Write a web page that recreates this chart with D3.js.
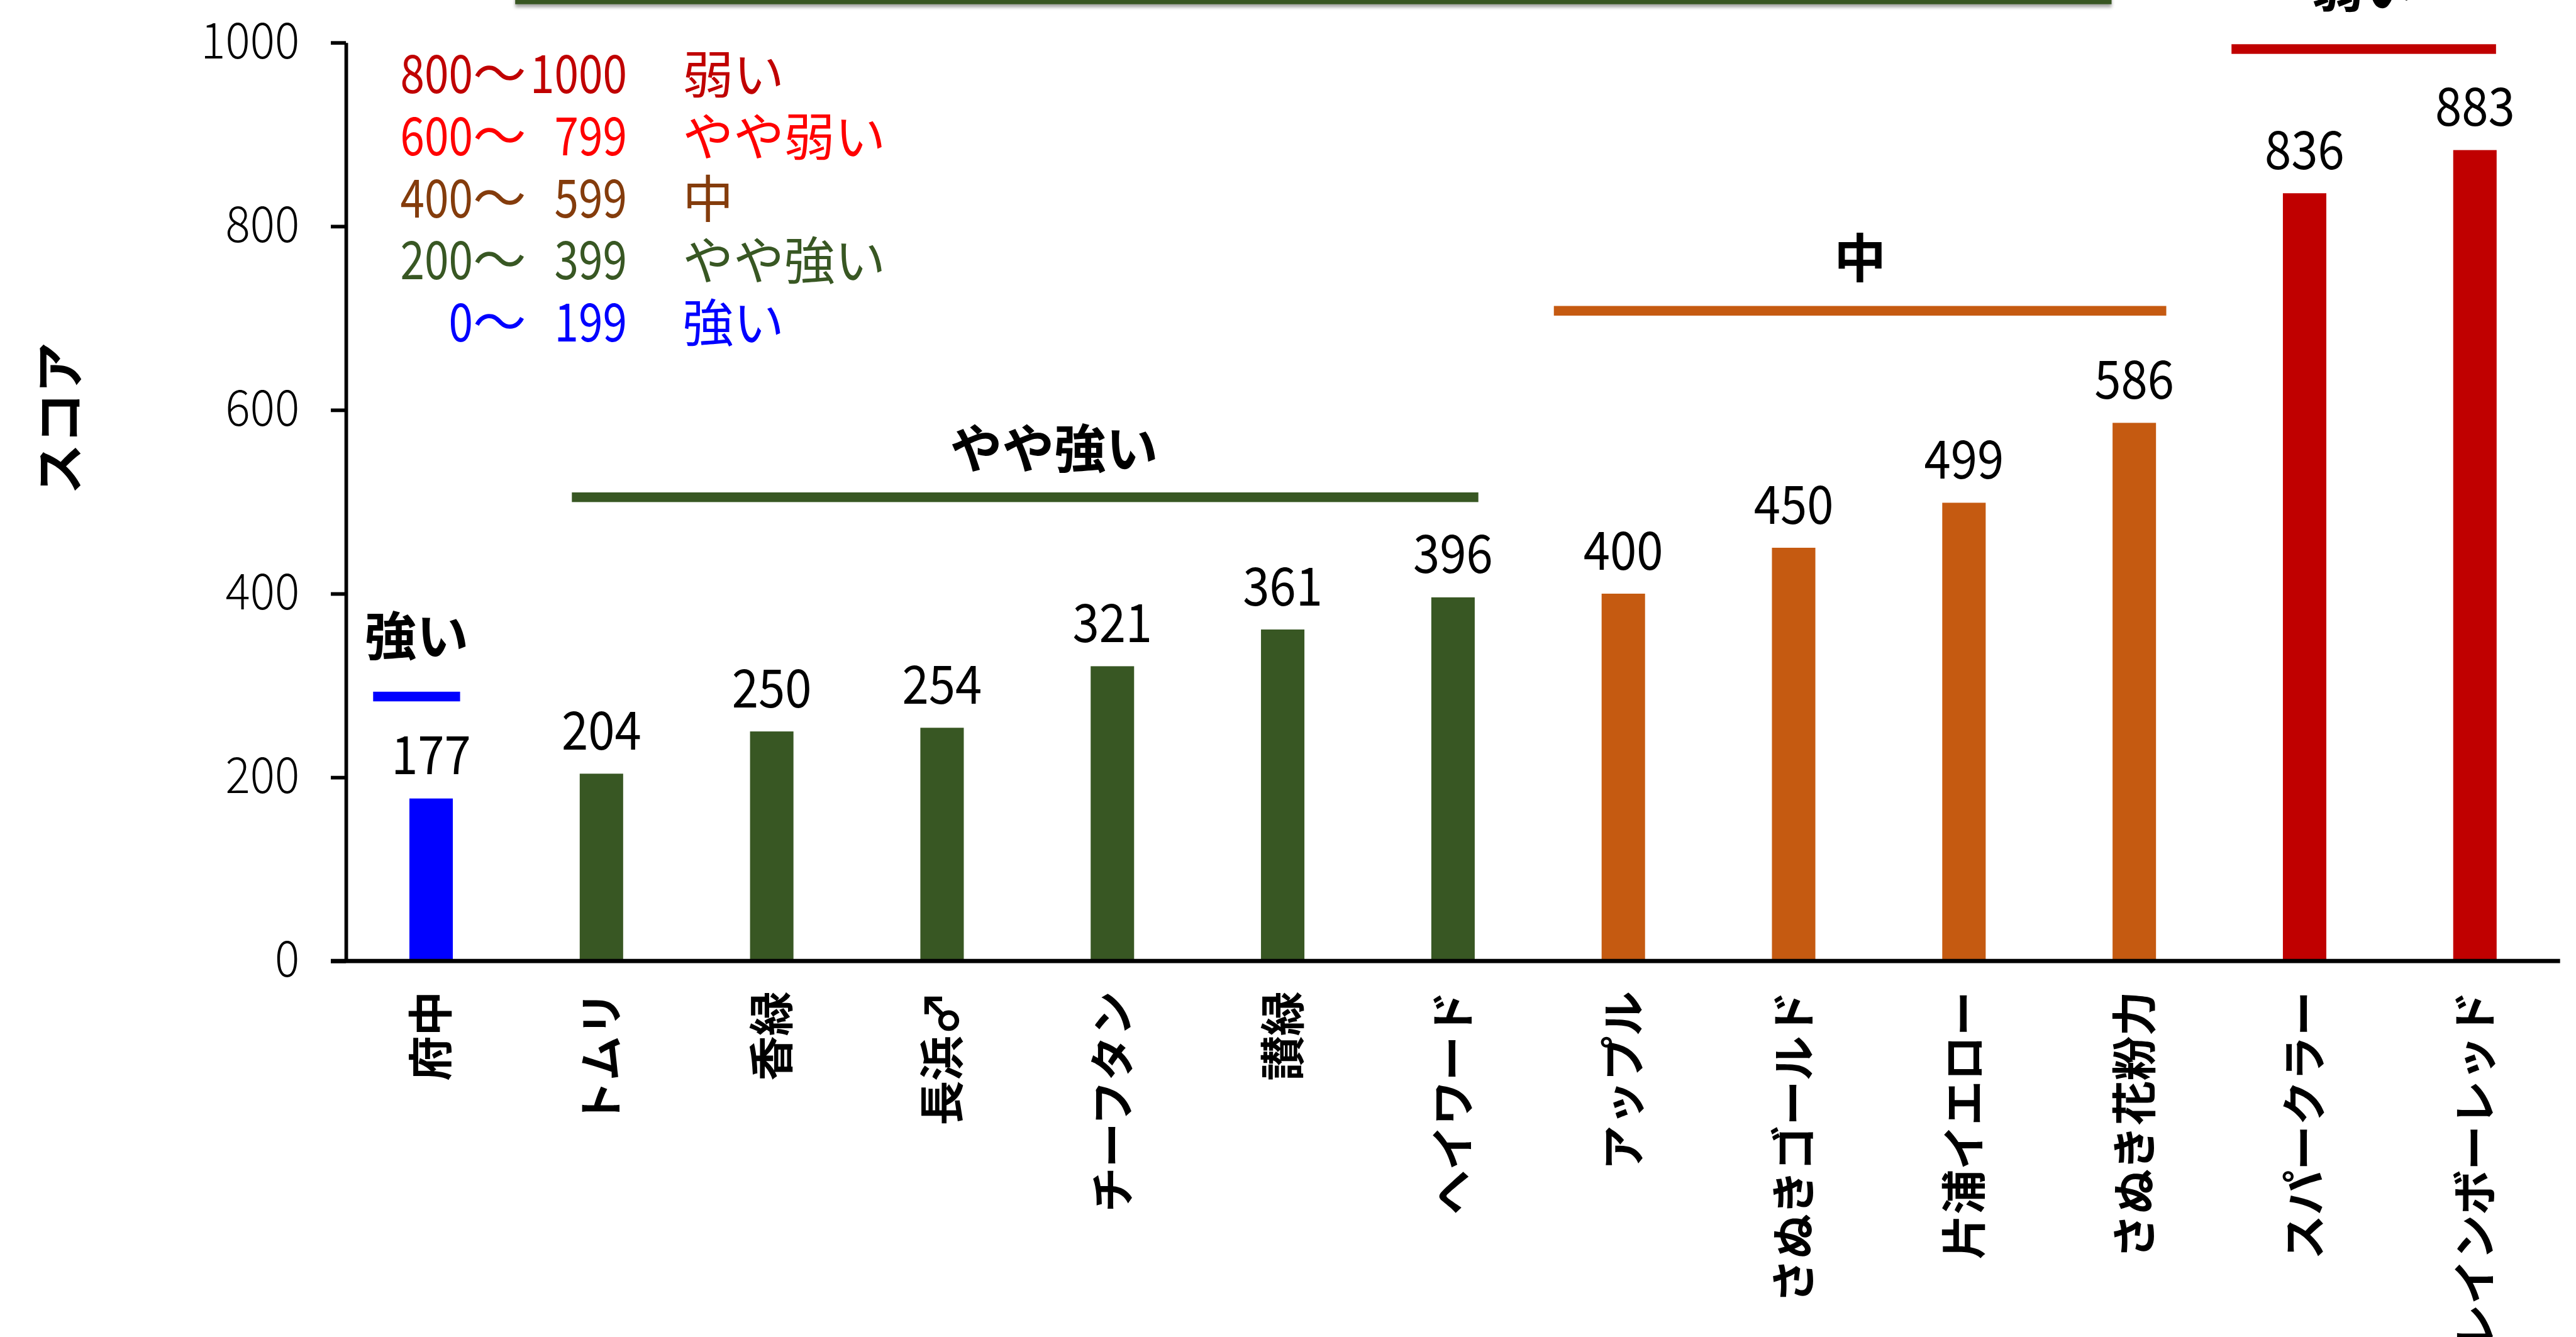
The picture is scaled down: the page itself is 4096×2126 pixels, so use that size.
<!DOCTYPE html>
<html><head><meta charset="utf-8">
<script src="https://cdn.jsdelivr.net/npm/d3@7"></script>
<style>
html,body{margin:0;padding:0;background:#fff;overflow:hidden}
svg{display:block}
text{font-family:"Noto Sans CJK JP","Noto Sans",sans-serif}
</style></head><body>
<svg id="chart"></svg>
<script>
// Varieties and their scores
const varieties = ["府中","トムリ","香緑","長浜♂","チーフタン","讃緑","ヘイワード","アップル","さぬきゴールド","片浦イエロー","さぬき花粉力","スパークラー","レインボーレッド"];
const scores = [177,204,250,254,321,361,396,400,450,499,586,836,883];
const yTicks = [0,200,400,600,800,1000];

// Score classes (upper bounds of each class)
const classBreaks = [200,400,600,800];
const barColors = ["#0000FF","#385723","#C55A11","#FF0000","#C00000"];

// Class key
const legendLow = ["800","600","400","200","0"];
const legendHigh = ["1000","799","599","399","199"];
const legendNames = ["弱い","やや弱い","中","やや強い","強い"];
const legendColors = ["#C00000","#FF0000","#843C0C","#385723","#0000FF"];

// Brackets drawn over each class of bars
const groupNames = ["強い","やや強い","中","弱い"];
const groupFirst = ["府中","トムリ","アップル","スパークラー"];
const groupLast = ["府中","ヘイワード","さぬき花粉力","レインボーレッド"];
const groupLevel = [288, 505, 708, 993];
const groupColors = ["#0000FF","#385723","#C55A11","#C00000"];

// ---- layout ----
const W = 4261, H = 2212;
const svg = d3.select("#chart")
  .attr("width", 4096).attr("height", 2126)
  .attr("viewBox", `0 0 ${W} ${H}`);

const plot = {left: 572, right: 4235, top: 70.5, bottom: 1590};
const x = d3.scaleBand().domain(varieties)
  .range([plot.left, plot.right])
  .paddingInner(0.745).paddingOuter(0.3725);
const y = d3.scaleLinear().domain([0, 1000]).range([plot.bottom, plot.top]);
const color = d3.scaleThreshold().domain(classBreaks).range(barColors);

const defs = svg.append("defs");
const shadow = defs.append("filter").attr("id", "ruleShadow")
  .attr("x", "-5%").attr("y", "-100%").attr("width", "110%").attr("height", "400%");
shadow.append("feDropShadow").attr("dx", 0).attr("dy", 5).attr("stdDeviation", 3)
  .attr("flood-color", "#000").attr("flood-opacity", 0.35);

// header rule at the top edge
svg.append("rect")
  .attr("x", 852).attr("y", -10).attr("width", 3493 - 852).attr("height", 17)
  .attr("fill", "#385723").attr("filter", "url(#ruleShadow)");

// ---- bars ----
const data = varieties.map((v, i) => ({name: v, score: scores[i]}));
svg.append("g").selectAll("rect").data(data).join("rect")
  .attr("x", d => x(d.name))
  .attr("width", x.bandwidth())
  .attr("y", d => y(d.score))
  .attr("height", d => y(0) - y(d.score))
  .attr("fill", d => color(d.score));

// value labels
const valSX = 0.9;
svg.append("g").selectAll("text").data(data).join("text")
  .attr("transform", d => `translate(${x(d.name) + x.bandwidth() / 2},${y(d.score) - 40}) scale(${valSX},1)`)
  .attr("text-anchor", "middle")
  .attr("font-size", 88)
  .attr("fill", "#000")
  .text(d => d.score);

// ---- y axis ----
const tickSX = 0.93;
const yAxis = svg.append("g").attr("transform", `translate(${plot.left},0)`)
  .call(d3.axisLeft(y).tickValues(yTicks).tickFormat(d3.format("d"))
    .tickSize(25).tickSizeOuter(0).tickPadding(52));
yAxis.select(".domain").attr("stroke", "#000").attr("stroke-width", 6);
yAxis.selectAll(".tick line").attr("stroke", "#000").attr("stroke-width", 6);
yAxis.selectAll(".tick text")
  .attr("font-size", 82).attr("font-weight", 300)
  .attr("font-family", '"Noto Sans CJK JP", sans-serif')
  .attr("fill", "#000")
  .attr("x", -77 / tickSX)
  .attr("dy", "0.31em")
  .attr("transform", `scale(${tickSX},1)`);

// y axis title
svg.append("text")
  .attr("transform", `translate(129,692) rotate(-90)`)
  .attr("text-anchor", "middle")
  .attr("font-size", 84).attr("font-weight", 700)
  .text("スコア");

// ---- x axis ----
const xAxis = svg.append("g").attr("transform", `translate(0,${plot.bottom})`)
  .call(d3.axisBottom(x).tickSize(0).tickSizeOuter(0));
xAxis.select(".domain").remove();
xAxis.append("line")
  .attr("x1", plot.left - 25).attr("x2", plot.right)
  .attr("stroke", "#000").attr("stroke-width", 7);
xAxis.selectAll(".tick text")
  .attr("font-size", 74).attr("font-weight", 700)
  .attr("font-family", '"Noto Sans CJK JP", sans-serif')
  .attr("fill", "#000")
  .attr("transform", "rotate(-90)")
  .attr("x", -50).attr("y", 27).attr("dy", null)
  .attr("text-anchor", "end");

// ---- class brackets ----
const extL = [60, 13, 79, 85], extR = [12, 6, 17, -1];
const labelRise = [68, 49, 55, 70], labelShift = [0, 48, 0, 0];
const brackets = groupNames.map((n, i) => {
  const x0 = x(groupFirst[i]) - extL[i];
  const x1 = x(groupLast[i]) + x.bandwidth() + extR[i];
  return {name: n, x0, x1, yl: y(groupLevel[i]), color: groupColors[i], i};
});
const bg = svg.append("g");
bg.selectAll("rect").data(brackets).join("rect")
  .attr("x", d => d.x0).attr("width", d => d.x1 - d.x0)
  .attr("y", d => d.yl - 8).attr("height", 16)
  .attr("fill", d => d.color);
bg.selectAll("text").data(brackets).join("text")
  .attr("x", d => (d.x0 + d.x1) / 2 + labelShift[d.i])
  .attr("y", d => d.yl - labelRise[d.i])
  .attr("text-anchor", "middle")
  .attr("font-size", 86).attr("font-weight", 700)
  .attr("fill", "#000")
  .text(d => d.name);

// ---- class key ----
const keySX = 0.82;
const key = svg.append("g");
legendNames.forEach((n, i) => {
  const by = 154 + i * 102.75;
  const row = key.append("g").attr("fill", legendColors[i]).attr("font-size", 88);
  row.append("text").attr("transform", `translate(782,${by}) scale(${keySX},1)`)
    .attr("text-anchor", "end").text(legendLow[i]);
  row.append("text").attr("x", 826).attr("y", by).attr("text-anchor", "middle").text("～");
  row.append("text").attr("transform", `translate(1037,${by}) scale(${keySX},1)`)
    .attr("text-anchor", "end").text(legendHigh[i]);
  row.append("text").attr("x", 1129).attr("y", by).attr("font-size", 84).text(n);
});
</script>
</body></html>
